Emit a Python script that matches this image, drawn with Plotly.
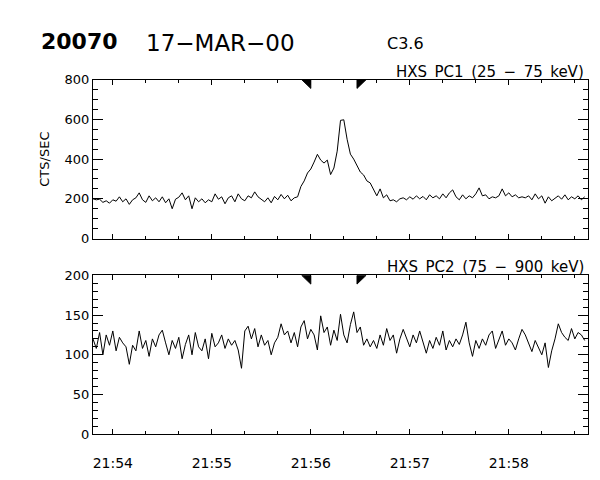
import plotly.graph_objects as go

# time axis: seconds after 21:53:48 (2-s samples)
t_sec = list(range(0, 300, 2))

pc1 = [200, 195, 198, 182, 190, 178, 195, 188, 210, 185,
       200, 172, 195, 205, 230, 195, 182, 215, 190, 205,
       185, 210, 180, 200, 150, 198, 208, 230, 195, 215,
       150, 205, 185, 200, 180, 195, 185, 225, 198, 210,
       175, 205, 215, 185, 225, 200, 190, 215, 205, 235,
       210, 195, 185, 205, 180, 212, 195, 222, 200, 218,
       190, 205, 210, 262, 290, 330, 350, 385, 424, 395,
       380, 395, 322, 355, 440, 595, 598, 500, 425, 400,
       370, 335, 320, 290, 280, 250, 215, 250, 205, 220,
       190, 195, 185, 200, 205, 195, 210, 198, 215, 200,
       212, 195, 220, 205, 215, 200, 225, 205, 230, 245,
       210, 195, 220, 200, 215, 205, 225, 255, 215, 220,
       200, 210, 205, 215, 250, 215, 230, 210, 220, 205,
       210, 205, 215, 195, 225, 200, 215, 178, 210, 190,
       205, 215, 198, 220, 195, 210, 200, 215, 195, 210]

pc2 = [120, 108, 128, 100, 125, 112, 130, 105, 122, 115,
       110, 88, 112, 105, 130, 108, 118, 98, 120, 110,
       125, 131, 115, 100, 118, 108, 122, 95, 113, 125,
       100, 128, 110, 105, 120, 95, 127, 110, 115, 125,
       108, 120, 112, 118, 106, 83, 130, 136, 120, 133,
       110, 125, 112, 118, 100, 115, 122, 139, 125, 130,
       115, 128, 110, 135, 143, 120, 132, 125, 106, 149,
       128, 135, 112, 131, 118, 151, 125, 115, 138, 154,
       128, 135, 112, 120, 110, 118, 108, 125, 112, 133,
       118, 125, 102, 120, 132, 120, 110, 125, 115, 130,
       115, 102, 118, 108, 122, 112, 130, 106, 118, 110,
       120, 113, 125, 141, 115, 98, 118, 108, 120, 112,
       125, 130, 108, 118, 130, 112, 120, 115, 106, 120,
       132, 125, 115, 104, 118, 110, 100, 115, 84, 105,
       120, 139, 128, 122, 118, 133, 120, 128, 125, 118]

x_tickvals = [12, 72, 132, 192, 252]
x_ticktext = ["21:54", "21:55", "21:56", "21:57", "21:58"]
pc1_ticks = [0, 200, 400, 600, 800]
pc2_ticks = [0, 50, 100, 150, 200]
marker_times = [132, 160]  # interval markers (s after 21:53:48)

W, H = 600, 480
FONT = "DejaVu Sans"
SP = "\u2002"


def px(x):
    return x / W


def py(y):
    return 1 - y / H


fig = go.Figure()
fig.add_trace(go.Scatter(x=t_sec, y=pc1, mode="lines", xaxis="x", yaxis="y",
                         line=dict(color="black", width=1), showlegend=False))
fig.add_trace(go.Scatter(x=t_sec, y=pc2, mode="lines", xaxis="x2", yaxis="y2",
                         line=dict(color="black", width=1), showlegend=False))

xdom = [px(93), px(588)]
common_x = dict(range=[0, 300], showgrid=False, zeroline=False,
                showline=True, linecolor="black", linewidth=1, mirror="allticks",
                ticks="inside", ticklen=5, tickcolor="black",
                tickvals=x_tickvals, ticktext=x_ticktext,
                minor=dict(dtick=20, tick0=12, ticks="inside", ticklen=3,
                           tickcolor="black", showgrid=False),
                domain=xdom,
                tickfont=dict(family=FONT, size=14, color="black"))

fig.update_layout(
    width=W, height=H, margin=dict(l=0, r=0, t=0, b=0),
    paper_bgcolor="white", plot_bgcolor="white",
    xaxis=dict(common_x, anchor="y", showticklabels=False),
    xaxis2=dict(common_x, anchor="y2", showticklabels=True, ticklabelstandoff=16),
    yaxis=dict(domain=[py(239), py(75)], range=[0, 800], anchor="x",
               showgrid=False, zeroline=False, showline=True, linecolor="black",
               mirror="allticks", ticks="inside", ticklen=10, tickcolor="black",
               tickvals=pc1_ticks,
               minor=dict(dtick=50, ticks="inside", ticklen=5, tickcolor="black",
                          showgrid=False),
               tickfont=dict(family=FONT, size=13, color="black"),
               title=dict(text="CTS/SEC", font=dict(family=FONT, size=13, color="black"),
                          standoff=12)),
    yaxis2=dict(domain=[py(441), py(277)], range=[0, 200], anchor="x2",
                showgrid=False, zeroline=False, showline=True, linecolor="black",
                mirror="allticks", ticks="inside", ticklen=10, tickcolor="black",
                tickvals=pc2_ticks,
                minor=dict(dtick=10, ticks="inside", ticklen=5, tickcolor="black",
                           showgrid=False),
                tickfont=dict(family=FONT, size=13, color="black")),
)

# interval markers (triangles hanging from top of each panel)
for xr, yref, top, h in [("x", "y", 800, 44), ("x2", "y2", 200, 11)]:
    t0, t1 = marker_times
    fig.add_shape(type="path", xref=xr, yref=yref,
                  path=f"M {t0-5.5},{top} L {t0},{top} L {t0},{top-h} Z",
                  fillcolor="black", line=dict(color="black", width=1))
    fig.add_shape(type="path", xref=xr, yref=yref,
                  path=f"M {t1},{top} L {t1+5.5},{top} L {t1},{top-h} Z",
                  fillcolor="black", line=dict(color="black", width=1))

annots = [
    dict(text="<b>20070</b>", x=px(39), y=py(36), size=22, xanchor="left"),
    dict(text="17−MAR−00", x=px(144), y=py(37), size=23, xanchor="left"),
    dict(text="C3.6", x=px(385), y=py(38), size=16, xanchor="left"),
    dict(text=f"HXS{SP}PC1{SP}(25{SP}−{SP}75{SP}keV)", x=px(586), y=py(67),
         size=15, xanchor="right"),
    dict(text=f"HXS{SP}PC2{SP}(75{SP}−{SP}900{SP}keV)", x=px(586), y=py(268),
         size=15, xanchor="right"),
]
for a in annots:
    fig.add_annotation(text=a["text"], x=a["x"], y=a["y"], xref="paper", yref="paper",
                       xanchor=a["xanchor"], yanchor="middle", showarrow=False,
                       font=dict(family=FONT, size=a["size"], color="black"))

fig.write_html("out.html", config={"displayModeBar": False},
               post_script="document.body.style.margin='0';document.body.style.overflow='hidden';")
